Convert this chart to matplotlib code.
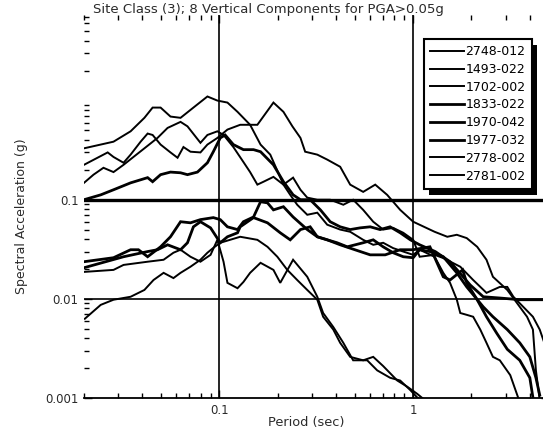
"""Site Class (3): response spectra of 8 vertical components with PGA > 0.05g."""

import matplotlib

matplotlib.use("Agg")
import matplotlib.pyplot as plt
from matplotlib.patches import Rectangle
from matplotlib.ticker import LogLocator, NullFormatter

plt.rcParams["font.family"] = ["DejaVu Sans"]

TITLE = "Site Class (3); 8 Vertical Components for PGA>0.05g"
XLABEL = "Period (sec)"
YLABEL = "Spectral Acceleration (g)"

# (period sec, spectral acceleration g)
REC_2748_012 = [
    (0.020, 0.33), (0.0284, 0.385), (0.0348, 0.49), (0.041, 0.67), (0.0452, 0.85),
    (0.0497, 0.85), (0.0559, 0.69), (0.063, 0.67), (0.0734, 0.85), (0.0867, 1.10),
    (0.0976, 1.0), (0.110, 0.955), (0.124, 0.77), (0.144, 0.57), (0.163, 0.36),
    (0.183, 0.285), (0.214, 0.142), (0.232, 0.112), (0.252, 0.089), (0.284, 0.0705),
    (0.320, 0.074), (0.360, 0.056), (0.420, 0.050), (0.473, 0.0475), (0.552, 0.0394),
    (0.622, 0.0351), (0.700, 0.0368), (0.788, 0.0325), (0.889, 0.030), (1.0, 0.0278),
    (1.08, 0.0313), (1.29, 0.0266), (1.43, 0.0183), (1.55, 0.0145), (1.68, 0.0098),
    (1.75, 0.0072), (1.89, 0.0069), (2.04, 0.0066), (2.22, 0.0049), (2.39, 0.0036),
    (2.58, 0.0026), (2.80, 0.0024), (3.17, 0.0017), (3.5, 0.00098),
]
REC_1493_022 = [
    (0.020, 0.225), (0.0265, 0.30), (0.0284, 0.27), (0.032, 0.236), (0.0348, 0.285),
    (0.0392, 0.385), (0.0426, 0.465), (0.0452, 0.45), (0.0497, 0.36), (0.0559, 0.30),
    (0.0608, 0.265), (0.0652, 0.34), (0.0709, 0.305), (0.0798, 0.30), (0.0867, 0.36),
    (0.0976, 0.42), (0.110, 0.51), (0.128, 0.57), (0.157, 0.57), (0.190, 0.955),
    (0.214, 0.77), (0.238, 0.55), (0.262, 0.42), (0.277, 0.305), (0.320, 0.285),
    (0.360, 0.254), (0.420, 0.215), (0.473, 0.142), (0.552, 0.12), (0.637, 0.142),
    (0.734, 0.112), (0.857, 0.079), (1.0, 0.060), (1.29, 0.0475), (1.50, 0.0423),
    (1.68, 0.0443), (1.89, 0.041), (2.14, 0.0335), (2.39, 0.0248), (2.58, 0.0167),
    (3.06, 0.0123), (3.43, 0.0091), (3.87, 0.0066), (4.15, 0.0049), (4.3, 0.0019),
    (4.5, 0.00095),
]
REC_1702_002 = [
    (0.020, 0.148), (0.0224, 0.179), (0.0252, 0.21), (0.0284, 0.19), (0.032, 0.225),
    (0.036, 0.27), (0.041, 0.33), (0.0479, 0.42), (0.054, 0.53), (0.063, 0.61),
    (0.0684, 0.55), (0.0798, 0.375), (0.0867, 0.45), (0.0976, 0.49), (0.105, 0.45),
    (0.118, 0.34), (0.133, 0.24), (0.144, 0.19), (0.157, 0.142), (0.169, 0.152),
    (0.190, 0.17), (0.214, 0.142), (0.240, 0.167), (0.262, 0.126), (0.284, 0.105),
    (0.320, 0.10), (0.373, 0.10), (0.436, 0.089), (0.490, 0.10), (0.552, 0.079),
    (0.622, 0.060), (0.700, 0.050), (0.788, 0.052), (0.889, 0.0464), (1.0, 0.0394),
    (1.08, 0.0266), (1.29, 0.0278), (1.43, 0.0258), (1.75, 0.0211), (2.04, 0.0155),
    (2.39, 0.0115), (2.80, 0.0132), (3.06, 0.0132), (3.29, 0.0105), (4.15, 0.0066),
    (4.5, 0.0049), (4.8, 0.0034),
]
REC_1833_022 = [
    (0.020, 0.10), (0.0244, 0.112), (0.0284, 0.126), (0.0348, 0.148), (0.0426, 0.167),
    (0.0452, 0.152), (0.0497, 0.179), (0.0559, 0.19), (0.063, 0.187), (0.0684, 0.179),
    (0.077, 0.19), (0.0867, 0.236), (0.093, 0.305), (0.101, 0.42), (0.107, 0.45),
    (0.118, 0.36), (0.133, 0.32), (0.150, 0.32), (0.163, 0.305), (0.190, 0.225),
    (0.214, 0.152), (0.240, 0.112), (0.262, 0.10), (0.294, 0.10), (0.332, 0.079),
    (0.373, 0.060), (0.420, 0.0533), (0.473, 0.050), (0.532, 0.052), (0.600, 0.0533),
    (0.675, 0.050), (0.760, 0.0533), (0.857, 0.0464), (0.967, 0.0394), (1.08, 0.0351),
    (1.30, 0.030), (1.55, 0.0237), (1.97, 0.0138), (2.30, 0.0105), (2.80, 0.0102),
    (3.55, 0.0098), (4.7, 0.0098),
]
REC_1970_042 = [
    (0.020, 0.0237), (0.0284, 0.026), (0.0348, 0.0313), (0.0382, 0.0313), (0.0426, 0.0266),
    (0.0497, 0.0335), (0.0559, 0.0423), (0.063, 0.060), (0.0709, 0.0585), (0.0798, 0.063),
    (0.093, 0.066), (0.101, 0.063), (0.110, 0.0533), (0.124, 0.050), (0.133, 0.060),
    (0.150, 0.067), (0.163, 0.0954), (0.177, 0.093), (0.190, 0.079), (0.214, 0.085),
    (0.240, 0.067), (0.284, 0.050), (0.320, 0.0423), (0.360, 0.0394), (0.405, 0.0368),
    (0.457, 0.0335), (0.552, 0.0368), (0.622, 0.0394), (0.700, 0.0335), (0.788, 0.0292),
    (0.889, 0.0266), (1.0, 0.026), (1.08, 0.0313), (1.22, 0.030), (1.43, 0.0266),
    (1.68, 0.0183), (1.89, 0.0132), (2.30, 0.0083), (2.58, 0.0066), (3.06, 0.0049),
    (3.55, 0.0036), (4.0, 0.0026), (4.3, 0.0016), (4.5, 0.00107),
]
REC_1977_032 = [
    (0.020, 0.0206), (0.032, 0.0266), (0.0426, 0.030), (0.0479, 0.0313), (0.054, 0.0351),
    (0.063, 0.0313), (0.0684, 0.0368), (0.0734, 0.0533), (0.0798, 0.060), (0.090, 0.052),
    (0.101, 0.0368), (0.110, 0.0423), (0.124, 0.0464), (0.128, 0.0533), (0.150, 0.066),
    (0.177, 0.0585), (0.206, 0.0464), (0.232, 0.0394), (0.262, 0.050), (0.294, 0.0533),
    (0.320, 0.0423), (0.360, 0.0394), (0.420, 0.0351), (0.50, 0.0313), (0.600, 0.0278),
    (0.717, 0.0278), (0.857, 0.0313), (1.0, 0.0313), (1.22, 0.0335), (1.43, 0.0167),
    (1.55, 0.0155), (1.80, 0.0196), (1.89, 0.0145), (2.14, 0.0098), (2.39, 0.0066),
    (2.70, 0.0045), (3.06, 0.0031), (3.55, 0.0024), (4.0, 0.0016), (4.15, 0.00101),
]
REC_2778_002 = [
    (0.020, 0.0187), (0.0284, 0.0196), (0.032, 0.022), (0.0426, 0.0237), (0.0515, 0.0248),
    (0.0579, 0.0292), (0.063, 0.0313), (0.0709, 0.0266), (0.0798, 0.0237), (0.090, 0.0278),
    (0.0976, 0.0394), (0.105, 0.0237), (0.110, 0.0145), (0.124, 0.0128), (0.133, 0.0148),
    (0.144, 0.0183), (0.163, 0.0231), (0.190, 0.0196), (0.206, 0.0145), (0.240, 0.0248),
    (0.284, 0.0167), (0.320, 0.0105), (0.343, 0.0072), (0.387, 0.0052), (0.436, 0.0036),
    (0.490, 0.0024), (0.579, 0.0024), (0.652, 0.0019), (0.760, 0.0016), (0.857, 0.0015),
    (0.967, 0.0012), (1.05, 0.00101), (1.1, 0.00095),
]
REC_2781_002 = [
    (0.0202, 0.0063), (0.0244, 0.0087), (0.0284, 0.0098), (0.0348, 0.0105), (0.041, 0.0123),
    (0.0457, 0.0155), (0.0515, 0.0183), (0.0579, 0.0162), (0.063, 0.0183), (0.0709, 0.0211),
    (0.0798, 0.0248), (0.0867, 0.0292), (0.093, 0.0327), (0.101, 0.0368), (0.128, 0.0423),
    (0.157, 0.0394), (0.177, 0.0335), (0.199, 0.0266), (0.224, 0.0196), (0.252, 0.0155),
    (0.284, 0.0123), (0.320, 0.0098), (0.343, 0.0066), (0.387, 0.0049), (0.420, 0.0036),
    (0.473, 0.0026), (0.552, 0.0024), (0.622, 0.0026), (0.700, 0.0021), (0.828, 0.0015),
    (0.932, 0.0013), (1.05, 0.0011), (1.15, 0.00095),
]

LABELS = ["2748-012", "1493-022", "1702-002", "1833-022",
          "1970-042", "1977-032", "2778-002", "2781-002"]
RECORDS = [REC_2748_012, REC_1493_022, REC_1702_002, REC_1833_022,
           REC_1970_042, REC_1977_032, REC_2778_002, REC_2781_002]
THICK = ["1833-022", "1970-042", "1977-032"]

X_TICKS = [0.1, 1]
Y_TICKS = [0.001, 0.01, 0.1]


def plot():
    W, H = 543, 443
    fig = plt.figure(figsize=(W / 100, H / 100), dpi=100)
    # right spine (T = 5 s) falls just outside the scanned frame
    ax = fig.add_axes([84 / W, 1 - 398 / H, (548.6 - 84) / W, (398 - 15) / H])
    ax.set_xscale("log")
    ax.set_yscale("log")
    ax.set_xlim(0.02, 5)
    ax.set_ylim(0.001, 7.3)

    for lab, rec in zip(LABELS, RECORDS):
        T = [p[0] for p in rec]
        sa = [p[1] for p in rec]
        ax.plot(T, sa, color="black", lw=2.0 if lab in THICK else 1.4,
                label=lab, solid_joinstyle="miter")

    # the scan only shows a few grid lines
    ax.axvline(0.1, color="black", lw=1.2, zorder=1)
    ax.axvline(1.0, color="black", lw=1.2, zorder=1)
    ax.axhline(0.1, color="black", lw=2.4, zorder=1)
    ax.axhline(0.01, color="black", lw=1.2, zorder=1)

    for s in ("top", "left"):
        ax.spines[s].set_visible(False)
    ax.spines["bottom"].set_linewidth(1.3)
    ax.spines["right"].set_linewidth(1.3)

    ax.set_xticks(X_TICKS)
    ax.set_xticklabels(["0.1", "1"])
    ax.set_yticks(Y_TICKS)
    ax.set_yticklabels(["0.001", "0.01", "0.1"])
    ax.xaxis.set_minor_locator(LogLocator(base=10, subs=(2, 3, 4, 5, 6, 7, 8, 9)))
    ax.yaxis.set_minor_locator(LogLocator(base=10, subs=(2, 3, 4, 5, 6, 7, 8, 9)))
    ax.xaxis.set_minor_formatter(NullFormatter())
    ax.yaxis.set_minor_formatter(NullFormatter())
    ax.tick_params(which="both", direction="in", top=True, right=True,
                   colors="black", labelcolor="#2a2a2a", labelsize=8.5, pad=4)
    ax.tick_params(which="major", length=6, width=1.0)
    ax.tick_params(which="minor", length=3.5, width=1.0)

    ax.set_xlabel(XLABEL, fontsize=9.3, color="#2a2a2a")
    ax.xaxis.set_label_coords((306 - 84) / 464.6, -0.047)
    ax.set_ylabel(YLABEL, fontsize=9, color="#2a2a2a")
    ax.yaxis.set_label_coords(-0.121, 0.475)
    fig.text(268 / W, 1 - 9 / H, TITLE, ha="center", va="center",
             fontsize=9.5, color="#2a2a2a")

    leg = ax.legend(loc="upper left", bbox_to_anchor=(424 / W, 1 - 39 / H),
                    bbox_transform=fig.transFigure, borderaxespad=0,
                    fontsize=9, handlelength=2.7, handletextpad=0.1,
                    labelspacing=0.38, borderpad=0.5, fancybox=False,
                    framealpha=1, edgecolor="black")
    leg.get_frame().set_linewidth(1.5)
    leg.set_zorder(6)

    # heavy drop shadow behind the legend box
    fig.canvas.draw()
    bb = leg.get_window_extent().transformed(fig.transFigure.inverted())
    ax.add_patch(Rectangle((bb.x0 + 5 / W, bb.y0 - 6 / H), bb.width, bb.height,
                           transform=fig.transFigure, facecolor="black",
                           edgecolor="none", zorder=5.5, clip_on=False))

    fig.savefig("out.png", dpi=100)


if __name__ == "__main__":
    plot()
